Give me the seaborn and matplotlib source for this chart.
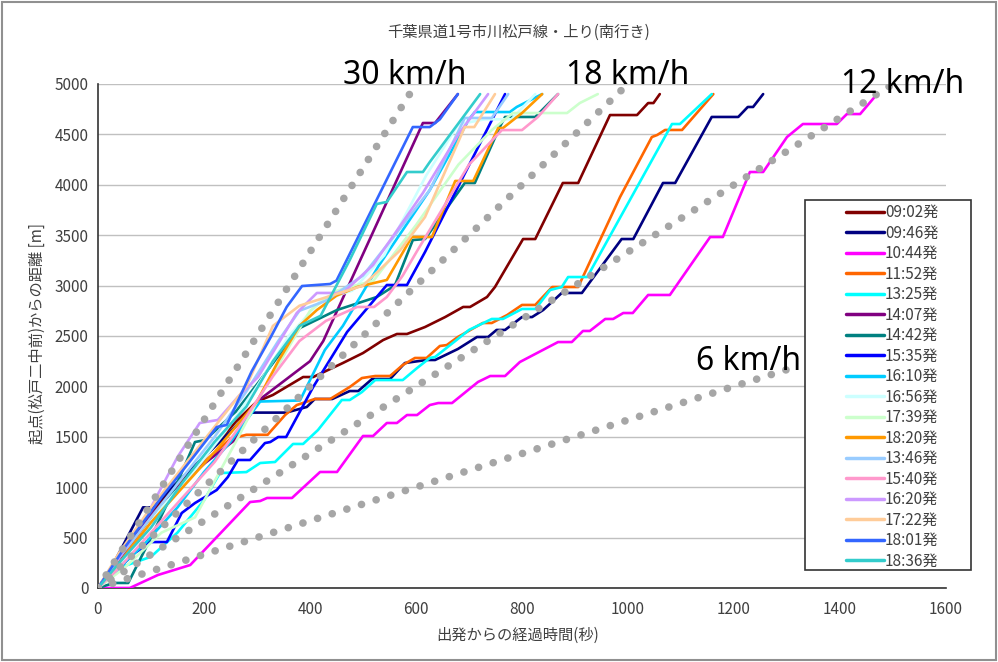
import matplotlib
matplotlib.use("Agg")
import matplotlib.pyplot as plt
from matplotlib.patches import Rectangle
import pandas as pd
import seaborn as sns

# departure labels and line colours
departures = ["09:02発", "09:46発", "10:44発", "11:52発", "13:25発", "14:07発",
              "14:42発", "15:35発", "16:10発", "16:56発", "17:39発", "18:20発",
              "13:46発", "15:40発", "16:20発", "17:22発", "18:01発", "18:36発"]
colors = ["#800000", "#000080", "#ff00ff", "#ff6600", "#00ffff", "#800080",
          "#008080", "#0000ff", "#00ccff", "#ccffff", "#ccffcc", "#ff9900",
          "#99ccff", "#ff99cc", "#cc99ff", "#ffcc99", "#3366ff", "#33cccc"]

# elapsed time [s] / distance from start [m] for each run
t_0902 = [0, 25, 60, 100, 140, 202, 260, 300, 330, 387, 406, 462, 500, 538, 564, 583, 617, 655, 689, 702,
          734, 749, 802, 825, 877, 906, 966, 1017, 1038, 1048, 1060]
d_0902 = [0, 200, 450, 750, 970, 1300, 1650, 1850, 1915, 2093, 2093, 2232, 2331, 2460, 2520, 2520, 2589, 2688,
          2788, 2788, 2887, 2986, 3462, 3462, 4018, 4018, 4692, 4692, 4811, 4811, 4900]

t_0946 = [0, 20, 50, 85, 104, 140, 200, 250, 285, 355, 394, 409, 442, 475, 491, 517, 551, 579, 620, 636,
          679, 715, 736, 752, 768, 800, 819, 840, 875, 913, 988, 1010, 1066, 1089, 1158, 1208, 1226, 1236, 1255]
d_0946 = [0, 150, 450, 800, 800, 1000, 1300, 1550, 1740, 1740, 1796, 1875, 1875, 1954, 1954, 2073, 2073, 2232,
          2262, 2262, 2371, 2490, 2490, 2560, 2560, 2688, 2688, 2758, 2927, 2927, 3462, 3462, 4018, 4018,
          4673, 4673, 4772, 4772, 4900]

t_1044 = [0, 60, 113, 174, 287, 306, 319, 366, 419, 451, 500, 519, 545, 564, 583, 602, 626, 642, 668, 717,
          740, 768, 796, 868, 894, 915, 928, 957, 972, 991, 1009, 1038, 1079, 1155, 1179, 1230, 1255, 1300,
          1330, 1394, 1413, 1438, 1470]
d_1044 = [0, 0, 129, 228, 853, 863, 893, 893, 1151, 1151, 1508, 1508, 1637, 1637, 1716, 1716, 1815, 1835,
          1835, 2044, 2103, 2103, 2242, 2440, 2440, 2550, 2550, 2669, 2669, 2728, 2728, 2907, 2907, 3482,
          3482, 4127, 4127, 4474, 4603, 4603, 4702, 4702, 4900]

t_1152 = [0, 40, 100, 150, 200, 250, 280, 320, 353, 375, 409, 438, 475, 498, 523, 551, 575, 598, 620, 645,
          658, 679, 726, 743, 772, 800, 825, 857, 906, 985, 1045, 1055, 1070, 1102, 1161]
d_1152 = [0, 250, 700, 1000, 1250, 1480, 1520, 1520, 1716, 1815, 1875, 1875, 1994, 2083, 2103, 2103, 2212,
          2282, 2282, 2401, 2410, 2490, 2629, 2629, 2708, 2808, 2808, 2986, 2986, 3879, 4474, 4494, 4544,
          4544, 4900]

t_1325 = [0, 40, 100, 150, 200, 230, 280, 306, 334, 368, 387, 415, 460, 475, 498, 523, 575, 602, 626, 636,
          674, 700, 743, 764, 800, 825, 834, 853, 875, 887, 923, 1083, 1098, 1158]
d_1325 = [0, 200, 310, 550, 870, 1140, 1150, 1240, 1250, 1429, 1429, 1567, 1865, 1865, 1944, 2063, 2063,
          2182, 2282, 2292, 2450, 2560, 2669, 2669, 2768, 2768, 2827, 2956, 2986, 3085, 3085, 4603, 4603, 4900]

t_1407 = [0, 30, 80, 140, 202, 258, 300, 350, 400, 425, 613, 636, 679]
d_1407 = [0, 200, 600, 950, 1240, 1468, 1850, 2050, 2250, 2450, 4613, 4613, 4900]

t_1442 = [0, 30, 57, 100, 150, 183, 202, 260, 302, 340, 381, 451, 526, 560, 594, 617, 692, 711, 758, 768,
          825, 868]
d_1442 = [0, 50, 50, 500, 1050, 1448, 1468, 1750, 2034, 2300, 2580, 2758, 2887, 3000, 3452, 3462, 4018, 4018,
          4573, 4673, 4673, 4900]

t_1535 = [0, 30, 70, 100, 130, 158, 183, 224, 245, 264, 287, 315, 325, 340, 355, 406, 470, 545, 583, 617, 768]
d_1535 = [0, 150, 350, 456, 456, 744, 843, 972, 1101, 1270, 1270, 1438, 1448, 1498, 1498, 1994, 2540, 3006,
          3006, 3333, 4900]

t_1610 = [0, 40, 90, 150, 200, 250, 306, 381, 428, 462, 530, 626, 700, 711, 777, 790, 838]
d_1610 = [0, 200, 450, 800, 1150, 1450, 1850, 1860, 2361, 2600, 3200, 3948, 4650, 4722, 4722, 4772, 4900]

t_1656 = [0, 50, 120, 180, 240, 300, 360, 420, 480, 540, 620, 680, 730, 780, 825]
d_1656 = [0, 300, 800, 1150, 1550, 2000, 2500, 2850, 2950, 3300, 4100, 4600, 4650, 4650, 4900]

t_1739 = [0, 50, 120, 183, 211, 260, 300, 350, 400, 450, 520, 600, 680, 743, 783, 885, 909, 943]
d_1739 = [0, 200, 550, 700, 972, 1450, 1850, 2300, 2750, 2950, 3050, 3600, 4200, 4543, 4712, 4712, 4811, 4900]

t_1820 = [0, 40, 100, 160, 220, 260, 300, 340, 380, 413, 450, 489, 545, 592, 630, 674, 708, 755, 764, 800, 838]
d_1820 = [0, 250, 650, 1000, 1350, 1600, 1850, 2250, 2600, 2758, 2900, 2986, 3056, 3482, 3482, 4038, 4038,
          4563, 4563, 4712, 4900]

t_1346 = [0, 40, 100, 160, 220, 280, 340, 380, 430, 500, 560, 626, 692, 743, 774]
d_1346 = [0, 300, 700, 1100, 1500, 1950, 2450, 2750, 2850, 3100, 3500, 3948, 4663, 4663, 4900]

t_1540 = [0, 40, 100, 160, 220, 280, 330, 380, 430, 489, 521, 545, 575, 602, 700, 762, 800, 830, 868]
d_1540 = [0, 200, 550, 900, 1250, 1700, 2100, 2450, 2650, 2788, 2788, 2887, 3100, 3343, 4200, 4543, 4543,
          4673, 4900]

t_1620 = [0, 40, 100, 150, 192, 226, 264, 302, 375, 413, 462, 519, 613, 680, 736]
d_1620 = [0, 300, 800, 1300, 1637, 1667, 1895, 2093, 2728, 2927, 2927, 3204, 3919, 4500, 4900]

t_1722 = [0, 40, 100, 160, 220, 280, 330, 380, 440, 500, 570, 617, 692, 710, 749]
d_1722 = [0, 350, 800, 1200, 1600, 2000, 2600, 2800, 2900, 3000, 3350, 3680, 4573, 4573, 4900]

t_1801 = [0, 50, 120, 180, 224, 243, 290, 325, 356, 385, 438, 450, 594, 626, 645, 679]
d_1801 = [0, 400, 900, 1300, 1597, 1617, 2150, 2480, 2788, 2996, 3016, 3050, 4573, 4573, 4650, 4900]

t_1836 = [0, 40, 100, 160, 220, 280, 330, 380, 420, 475, 526, 545, 583, 613, 626, 721]
d_1836 = [0, 250, 600, 1050, 1450, 1800, 2250, 2600, 2700, 3254, 3810, 3830, 4127, 4127, 4226, 4900]

series_t = [t_0902, t_0946, t_1044, t_1152, t_1325, t_1407, t_1442, t_1535, t_1610,
            t_1656, t_1739, t_1820, t_1346, t_1540, t_1620, t_1722, t_1801, t_1836]
series_d = [d_0902, d_0946, d_1044, d_1152, d_1325, d_1407, d_1442, d_1535, d_1610,
            d_1656, d_1739, d_1820, d_1346, d_1540, d_1620, d_1722, d_1801, d_1836]

# constant-speed guide lines: label, end time [s], end distance [m]
speed_labels = ["30 km/h", "18 km/h", "12 km/h", "6 km/h"]
speed_t_end = [600, 1000, 1500, 1300]
speed_d_end = [5000, 5000, 5000, 2167]

x_ticks = [0, 200, 400, 600, 800, 1000, 1200, 1400, 1600]
y_ticks = [0, 500, 1000, 1500, 2000, 2500, 3000, 3500, 4000, 4500, 5000]

rows = []
for name, ts, ds in zip(departures, series_t, series_d):
    for t, d in zip(ts, ds):
        rows.append((name, t, d))
df = pd.DataFrame(rows, columns=["出発", "経過時間", "距離"])

sns.set_theme(style="white")
plt.rcParams["font.family"] = ["Noto Sans CJK JP", "DejaVu Sans"]

W, H = 998, 662
fig = plt.figure(figsize=(W / 100, H / 100), dpi=100)
ax = fig.add_axes([98 / W, 1 - 588 / H, 848 / W, 504 / H])

sns.lineplot(data=df, x="経過時間", y="距離", hue="出発", hue_order=departures,
             palette=dict(zip(departures, colors)), sort=False, estimator=None,
             linewidth=1.9, ax=ax, zorder=3)
handles, labels = ax.get_legend_handles_labels()
ax.get_legend().remove()

# dotted guide lines
for te, de in zip(speed_t_end, speed_d_end):
    ax.plot([0, te], [0, de], color="#a6a6a6", linewidth=5.5,
            linestyle=(0, (0.01, 2.0)), dash_capstyle="round", zorder=4)

label_pos = [(579, 5000), (1000, 5000), (1519, 4911), (1228, 2163)]
for lab, (lx, ly) in zip(speed_labels, label_pos):
    ax.text(lx, ly, lab, ha="center", va="baseline", fontsize=23,
            family=["Noto Sans", "DejaVu Sans"], color="black", clip_on=False, zorder=6)

ax.set_xlim(0, 1600)
ax.set_ylim(0, 5000)
ax.set_xticks(x_ticks)
ax.set_yticks(y_ticks)
ax.set_xlabel("")
ax.set_ylabel("")
ax.yaxis.grid(True, color="#c0c0c0", linewidth=1)
ax.xaxis.grid(False)
for s in ["top", "right"]:
    ax.spines[s].set_visible(False)
for s in ["left", "bottom"]:
    ax.spines[s].set_color("#333333")
    ax.spines[s].set_linewidth(1.2)
ax.tick_params(direction="in", length=4, width=1, colors="#333333", labelsize=11)
ax.tick_params(axis="x", pad=9, labelcolor="#404040")
ax.tick_params(axis="y", pad=7, labelcolor="#404040")

fig.text(519 / W, 1 - 32 / H, "千葉県道1号市川松戸線・上り(南行き)", ha="center", va="center",
         fontsize=11, color="#404040")
fig.text(518 / W, 1 - 635 / H, "出発からの経過時間(秒)", ha="center", va="center",
         fontsize=11, color="#404040")
fig.text(37 / W, 1 - 334 / H, "起点(松戸二中前)からの距離 [m]", ha="center", va="center",
         rotation=90, fontsize=11, color="#404040")

# legend box
fig.add_artist(Rectangle((805 / W, 1 - 570 / H), 166 / W, 370 / H, transform=fig.transFigure,
                         facecolor="white", edgecolor="#333333", linewidth=1.2, zorder=5))
for h in handles:
    h.set_linewidth(2.5)
leg = fig.legend(handles, labels, loc="upper left", bbox_to_anchor=(846 / W, 1 - 204 / H),
                 frameon=False, borderpad=0, borderaxespad=0, handlelength=2.5,
                 handletextpad=0.05, labelspacing=0.23, fontsize=11)
leg.set_zorder(6)
for txt in leg.get_texts():
    txt.set_color("#404040")

# outer frame
fig.add_artist(Rectangle((2 / W, 2 / H), 1 - 4 / W, 1 - 4 / H, transform=fig.transFigure,
                         fill=False, edgecolor="#909090", linewidth=1.5, zorder=7))

fig.savefig("out.png", dpi=100)
